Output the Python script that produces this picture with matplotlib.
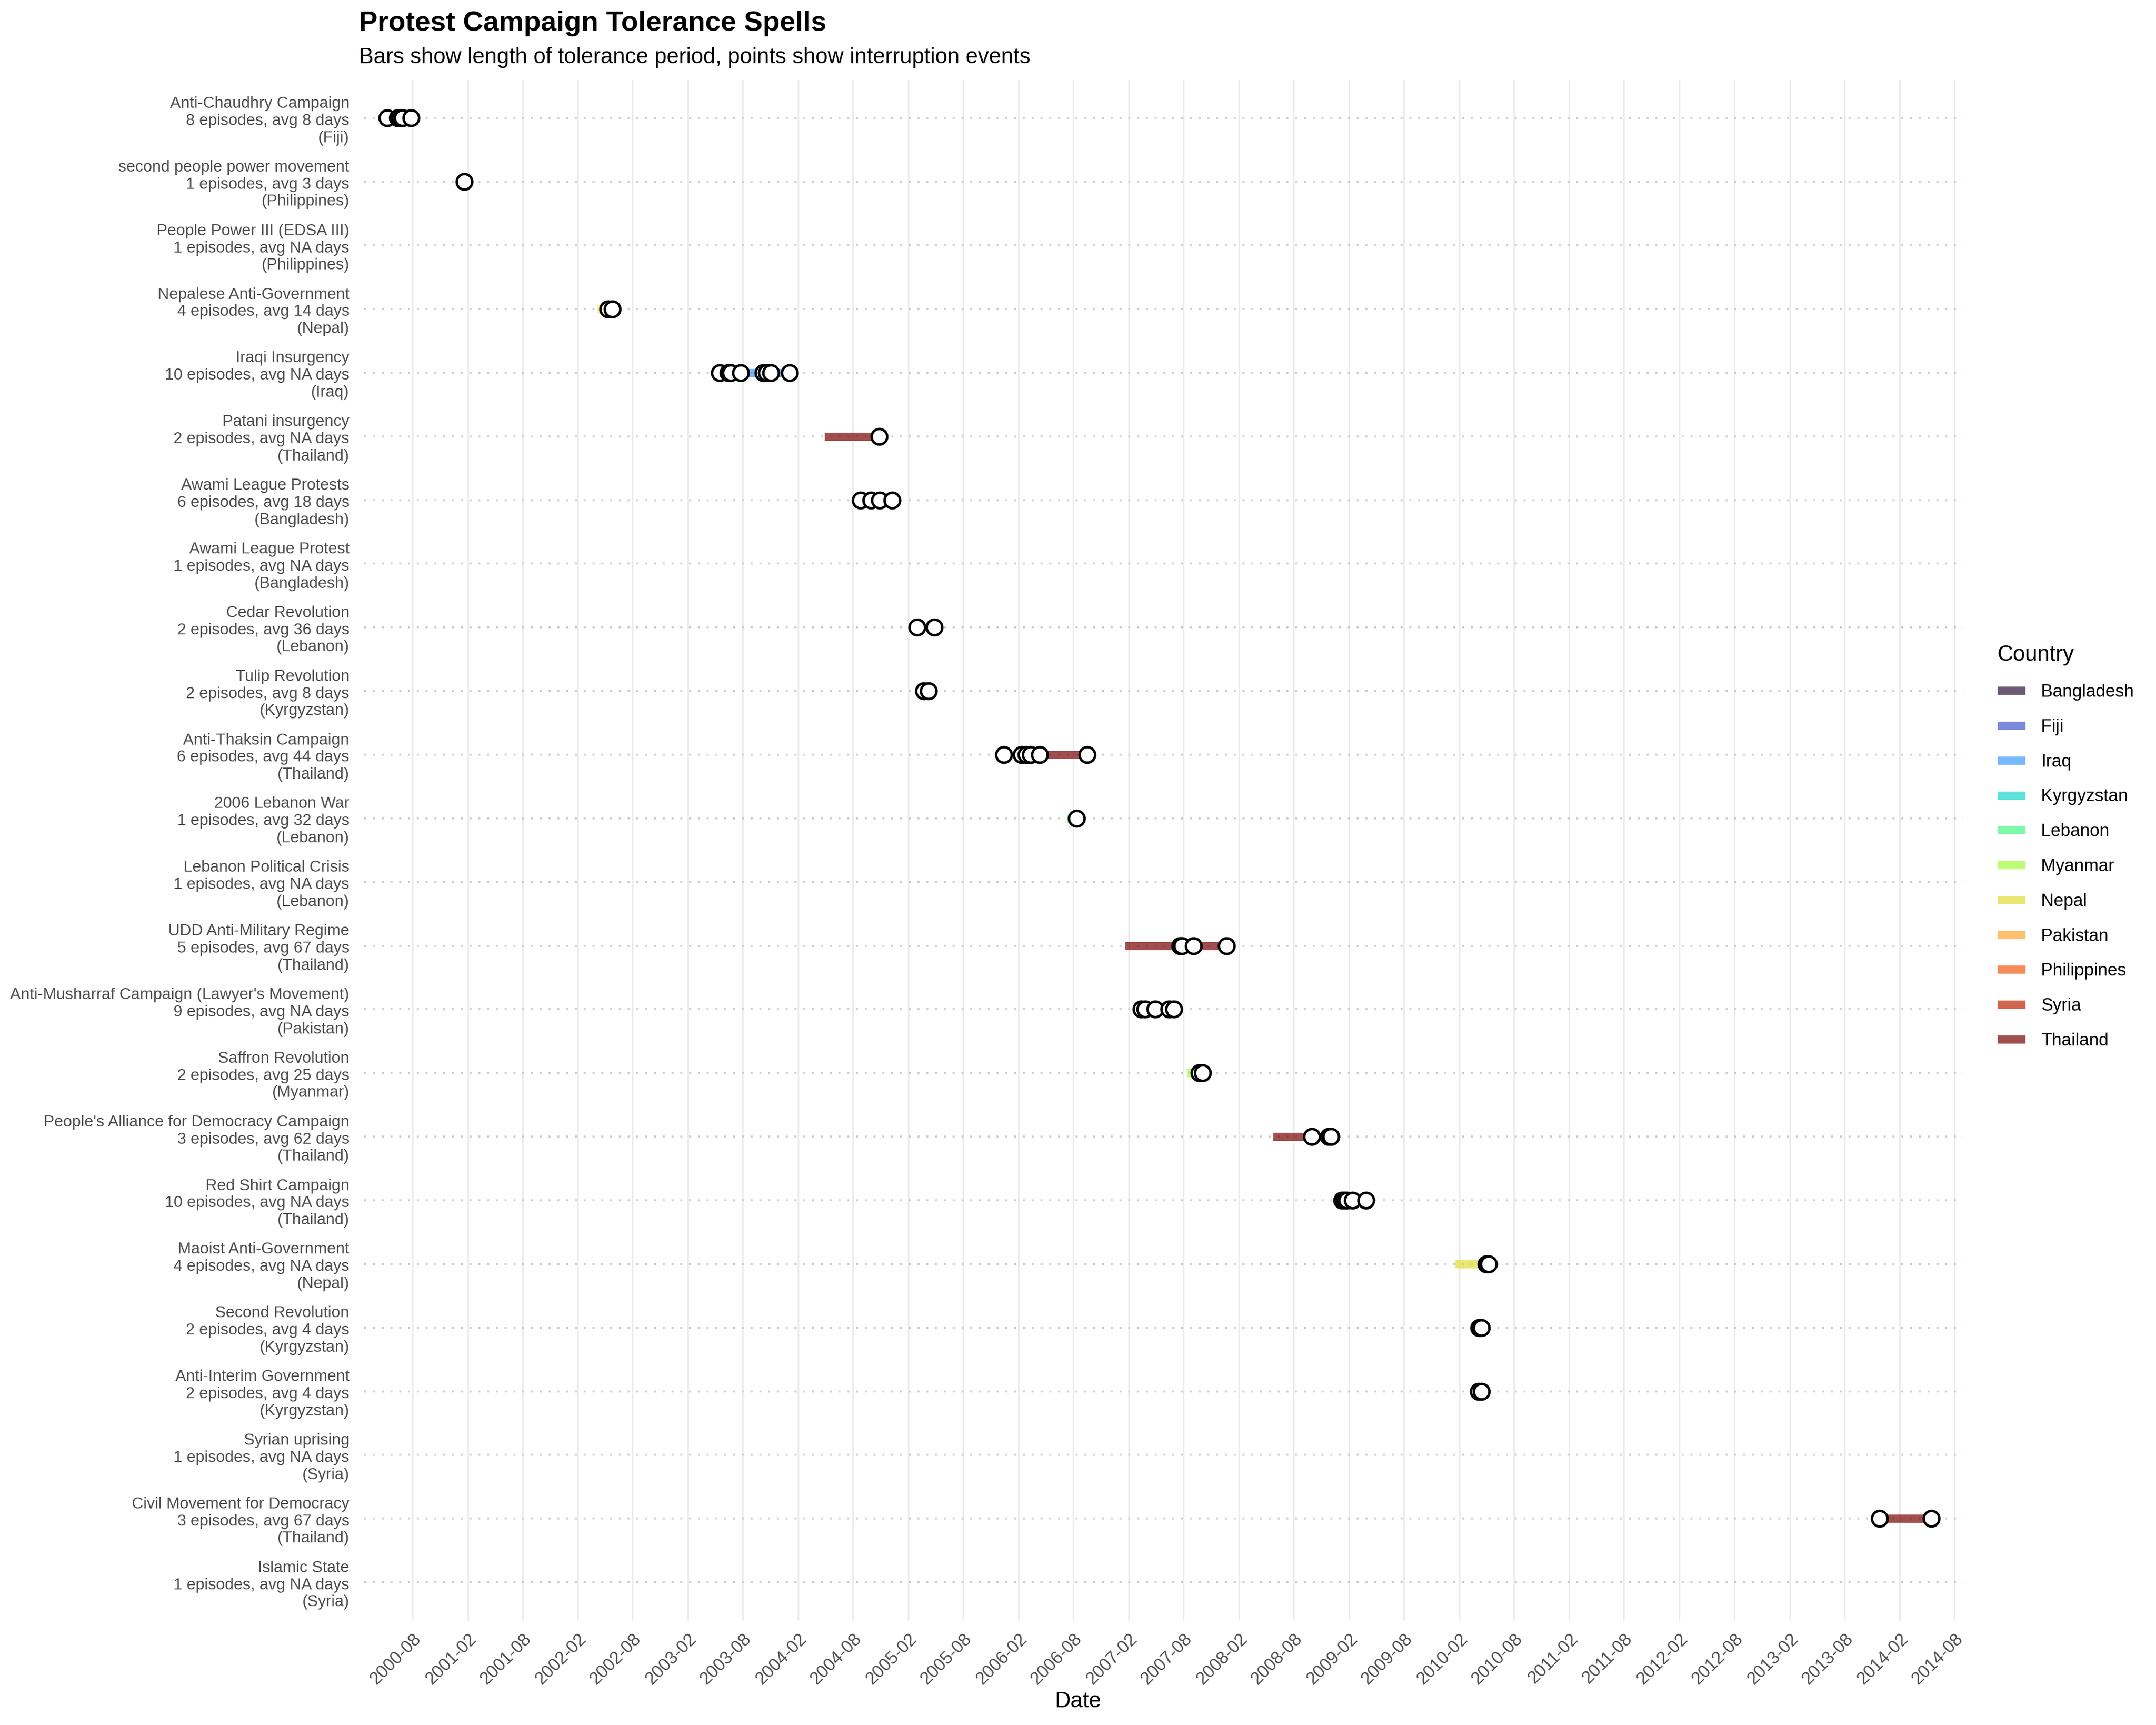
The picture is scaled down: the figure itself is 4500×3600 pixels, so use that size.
import numpy as np
import pandas as pd
import matplotlib
matplotlib.use('Agg')
import matplotlib.pyplot as plt
import matplotlib.dates as mdates
from matplotlib.lines import Line2D

plt.rcParams['font.family'] = ['Liberation Sans', 'DejaVu Sans']

# campaigns, top to bottom
campaigns = ['Anti-Chaudhry Campaign', 'second people power movement', 'People Power III (EDSA III)',
             'Nepalese Anti-Government', 'Iraqi Insurgency', 'Patani insurgency',
             'Awami League Protests', 'Awami League Protest', 'Cedar Revolution', 'Tulip Revolution',
             'Anti-Thaksin Campaign', '2006 Lebanon War', 'Lebanon Political Crisis',
             'UDD Anti-Military Regime', "Anti-Musharraf Campaign (Lawyer's Movement)",
             'Saffron Revolution', "People's Alliance for Democracy Campaign", 'Red Shirt Campaign',
             'Maoist Anti-Government', 'Second Revolution', 'Anti-Interim Government',
             'Syrian uprising', 'Civil Movement for Democracy', 'Islamic State']
countries = ['Fiji', 'Philippines', 'Philippines', 'Nepal', 'Iraq', 'Thailand', 'Bangladesh',
             'Bangladesh', 'Lebanon', 'Kyrgyzstan', 'Thailand', 'Lebanon', 'Lebanon', 'Thailand',
             'Pakistan', 'Myanmar', 'Thailand', 'Thailand', 'Nepal', 'Kyrgyzstan', 'Kyrgyzstan',
             'Syria', 'Thailand', 'Syria']
n_episodes = [8, 1, 1, 4, 10, 2, 6, 1, 2, 2, 6, 1, 1, 5, 9, 2, 3, 10, 4, 2, 2, 1, 3, 1]
avg_days = ['8', '3', 'NA', '14', 'NA', 'NA', '18', 'NA', '36', '8', '44', '32', 'NA', '67', 'NA',
            '25', '62', 'NA', 'NA', '4', '4', 'NA', '67', 'NA']

# tolerance spells (bars)
bar_campaign = ['Nepalese Anti-Government', 'Iraqi Insurgency', 'Iraqi Insurgency', 'Patani insurgency',
                'Anti-Thaksin Campaign', '2006 Lebanon War', 'UDD Anti-Military Regime',
                'UDD Anti-Military Regime', 'Saffron Revolution', "People's Alliance for Democracy Campaign",
                'Maoist Anti-Government', 'Civil Movement for Democracy']
bar_start = ['2002-04-06', '2003-07-26', '2003-11-02', '2004-04-28', '2006-05-08', '2006-07-12',
             '2007-01-20', '2007-09-04', '2007-08-14', '2008-05-25', '2010-01-19', '2013-11-26']
bar_end = ['2002-05-12', '2003-10-09', '2004-01-03', '2004-10-26', '2006-09-16', '2006-08-13',
           '2007-07-21', '2007-12-22', '2007-09-23', '2008-09-30', '2010-05-02', '2014-05-17']

# interruption events (points)
pt_campaign = (['Anti-Chaudhry Campaign'] * 5 + ['second people power movement']
               + ['Nepalese Anti-Government'] * 2 + ['Iraqi Insurgency'] * 8
               + ['Patani insurgency'] + ['Awami League Protests'] * 4
               + ['Cedar Revolution'] * 2 + ['Tulip Revolution'] * 2
               + ['Anti-Thaksin Campaign'] * 6 + ['2006 Lebanon War']
               + ['UDD Anti-Military Regime'] * 4 + ["Anti-Musharraf Campaign (Lawyer's Movement)"] * 5
               + ['Saffron Revolution'] * 2 + ["People's Alliance for Democracy Campaign"] * 3
               + ['Red Shirt Campaign'] * 5 + ['Maoist Anti-Government'] * 2
               + ['Second Revolution'] * 2 + ['Anti-Interim Government'] * 2
               + ['Civil Movement for Democracy'] * 2)
pt_date = ['2000-05-09', '2000-06-13', '2000-06-21', '2000-06-29', '2000-07-27',
           '2001-01-20',
           '2002-05-12', '2002-05-26',
           '2003-05-16', '2003-06-14', '2003-06-22', '2003-07-26', '2003-10-09', '2003-10-20', '2003-11-02', '2004-01-03',
           '2004-10-26',
           '2004-08-25', '2004-09-29', '2004-10-29', '2004-12-09',
           '2005-03-01', '2005-04-28',
           '2005-03-23', '2005-04-09',
           '2005-12-14', '2006-02-10', '2006-02-27', '2006-03-13', '2006-04-12', '2006-09-16',
           '2006-08-13',
           '2007-07-21', '2007-07-27', '2007-09-04', '2007-12-22',
           '2007-03-15', '2007-03-28', '2007-04-29', '2007-06-15', '2007-07-01',
           '2007-09-23', '2007-10-04',
           '2008-09-30', '2008-11-25', '2008-12-03',
           '2009-01-08', '2009-01-16', '2009-01-24', '2009-02-12', '2009-03-28',
           '2010-05-02', '2010-05-10',
           '2010-04-08', '2010-04-16',
           '2010-04-06', '2010-04-16',
           '2013-11-26', '2014-05-17']

country_order = sorted(set(countries))
country_colors = dict(zip(country_order, plt.cm.turbo(np.linspace(0, 1, len(country_order)))))
row_of = {c: i for i, c in enumerate(campaigns)}

fig = plt.figure(figsize=(15, 12), dpi=300)
ax = fig.add_axes([0.1689, 0.0606, 0.7418, 0.8931])

# bars
for c, s, e in zip(bar_campaign, bar_start, bar_end):
    col = country_colors[countries[row_of[c]]]
    ax.plot([pd.Timestamp(s), pd.Timestamp(e)], [row_of[c], row_of[c]], color=col, alpha=0.7,
            lw=4.1, solid_capstyle='butt', zorder=2)

# points
ax.plot(pd.to_datetime(pt_date), [row_of[c] for c in pt_campaign], 'o', mfc='white', mec='black',
        ms=7.8, mew=1.25, zorder=3, ls='none')

# axes
labels = [f'{n}\n{k} episodes, avg {a} days\n({c})' for n, k, a, c in zip(campaigns, n_episodes, avg_days, countries)]
ax.set_yticks(range(len(campaigns)))
ax.set_yticklabels(labels, fontsize=8, color='#4D4D4D', linespacing=1.2)
ax.set_ylim(len(campaigns) - 0.4, -0.6)

ticks = pd.date_range('2000-08-01', '2014-08-01', freq='6MS')
ax.set_xticks(ticks)
ax.xaxis.set_major_formatter(mdates.DateFormatter('%Y-%m'))
ax.set_xlim(pd.Timestamp('2000-02-23'), pd.Timestamp('2014-08-31'))
plt.setp(ax.get_xticklabels(), rotation=45, ha='right', rotation_mode='anchor', fontsize=8.8, color='#4D4D4D')
ax.tick_params(length=0)
ax.tick_params(axis='y', pad=7.4)
ax.tick_params(axis='x', pad=5)

ax.grid(axis='x', color='#EBEBEB', lw=0.8)
ax.grid(axis='y', color='#CCCCCC', lw=1.0, ls=(0, (1, 3.4)))
ax.set_axisbelow(True)
for sp in ax.spines.values():
    sp.set_visible(False)

fig.text(0.5, 1 - 3551 / 3600, 'Date', fontsize=11, ha='center', va='center')
fig.text(0.1665, 1 - 49 / 3600, 'Protest Campaign Tolerance Spells', fontsize=14, fontweight='bold', va='center')
fig.text(0.1665, 1 - 120 / 3600, 'Bars show length of tolerance period, points show interruption events',
         fontsize=11, va='center')

handles = [Line2D([0], [0], color=country_colors[c], alpha=0.7, lw=4.1, solid_capstyle='butt') for c in country_order]
leg = fig.legend(handles, country_order, loc='center left', bbox_to_anchor=(0.919, 0.509), frameon=False,
                 title='Country', fontsize=8.8, title_fontsize=11, handlelength=1.6, handletextpad=0.9,
                 labelspacing=1.03, alignment='left')

fig.savefig('out.png', dpi=300)
